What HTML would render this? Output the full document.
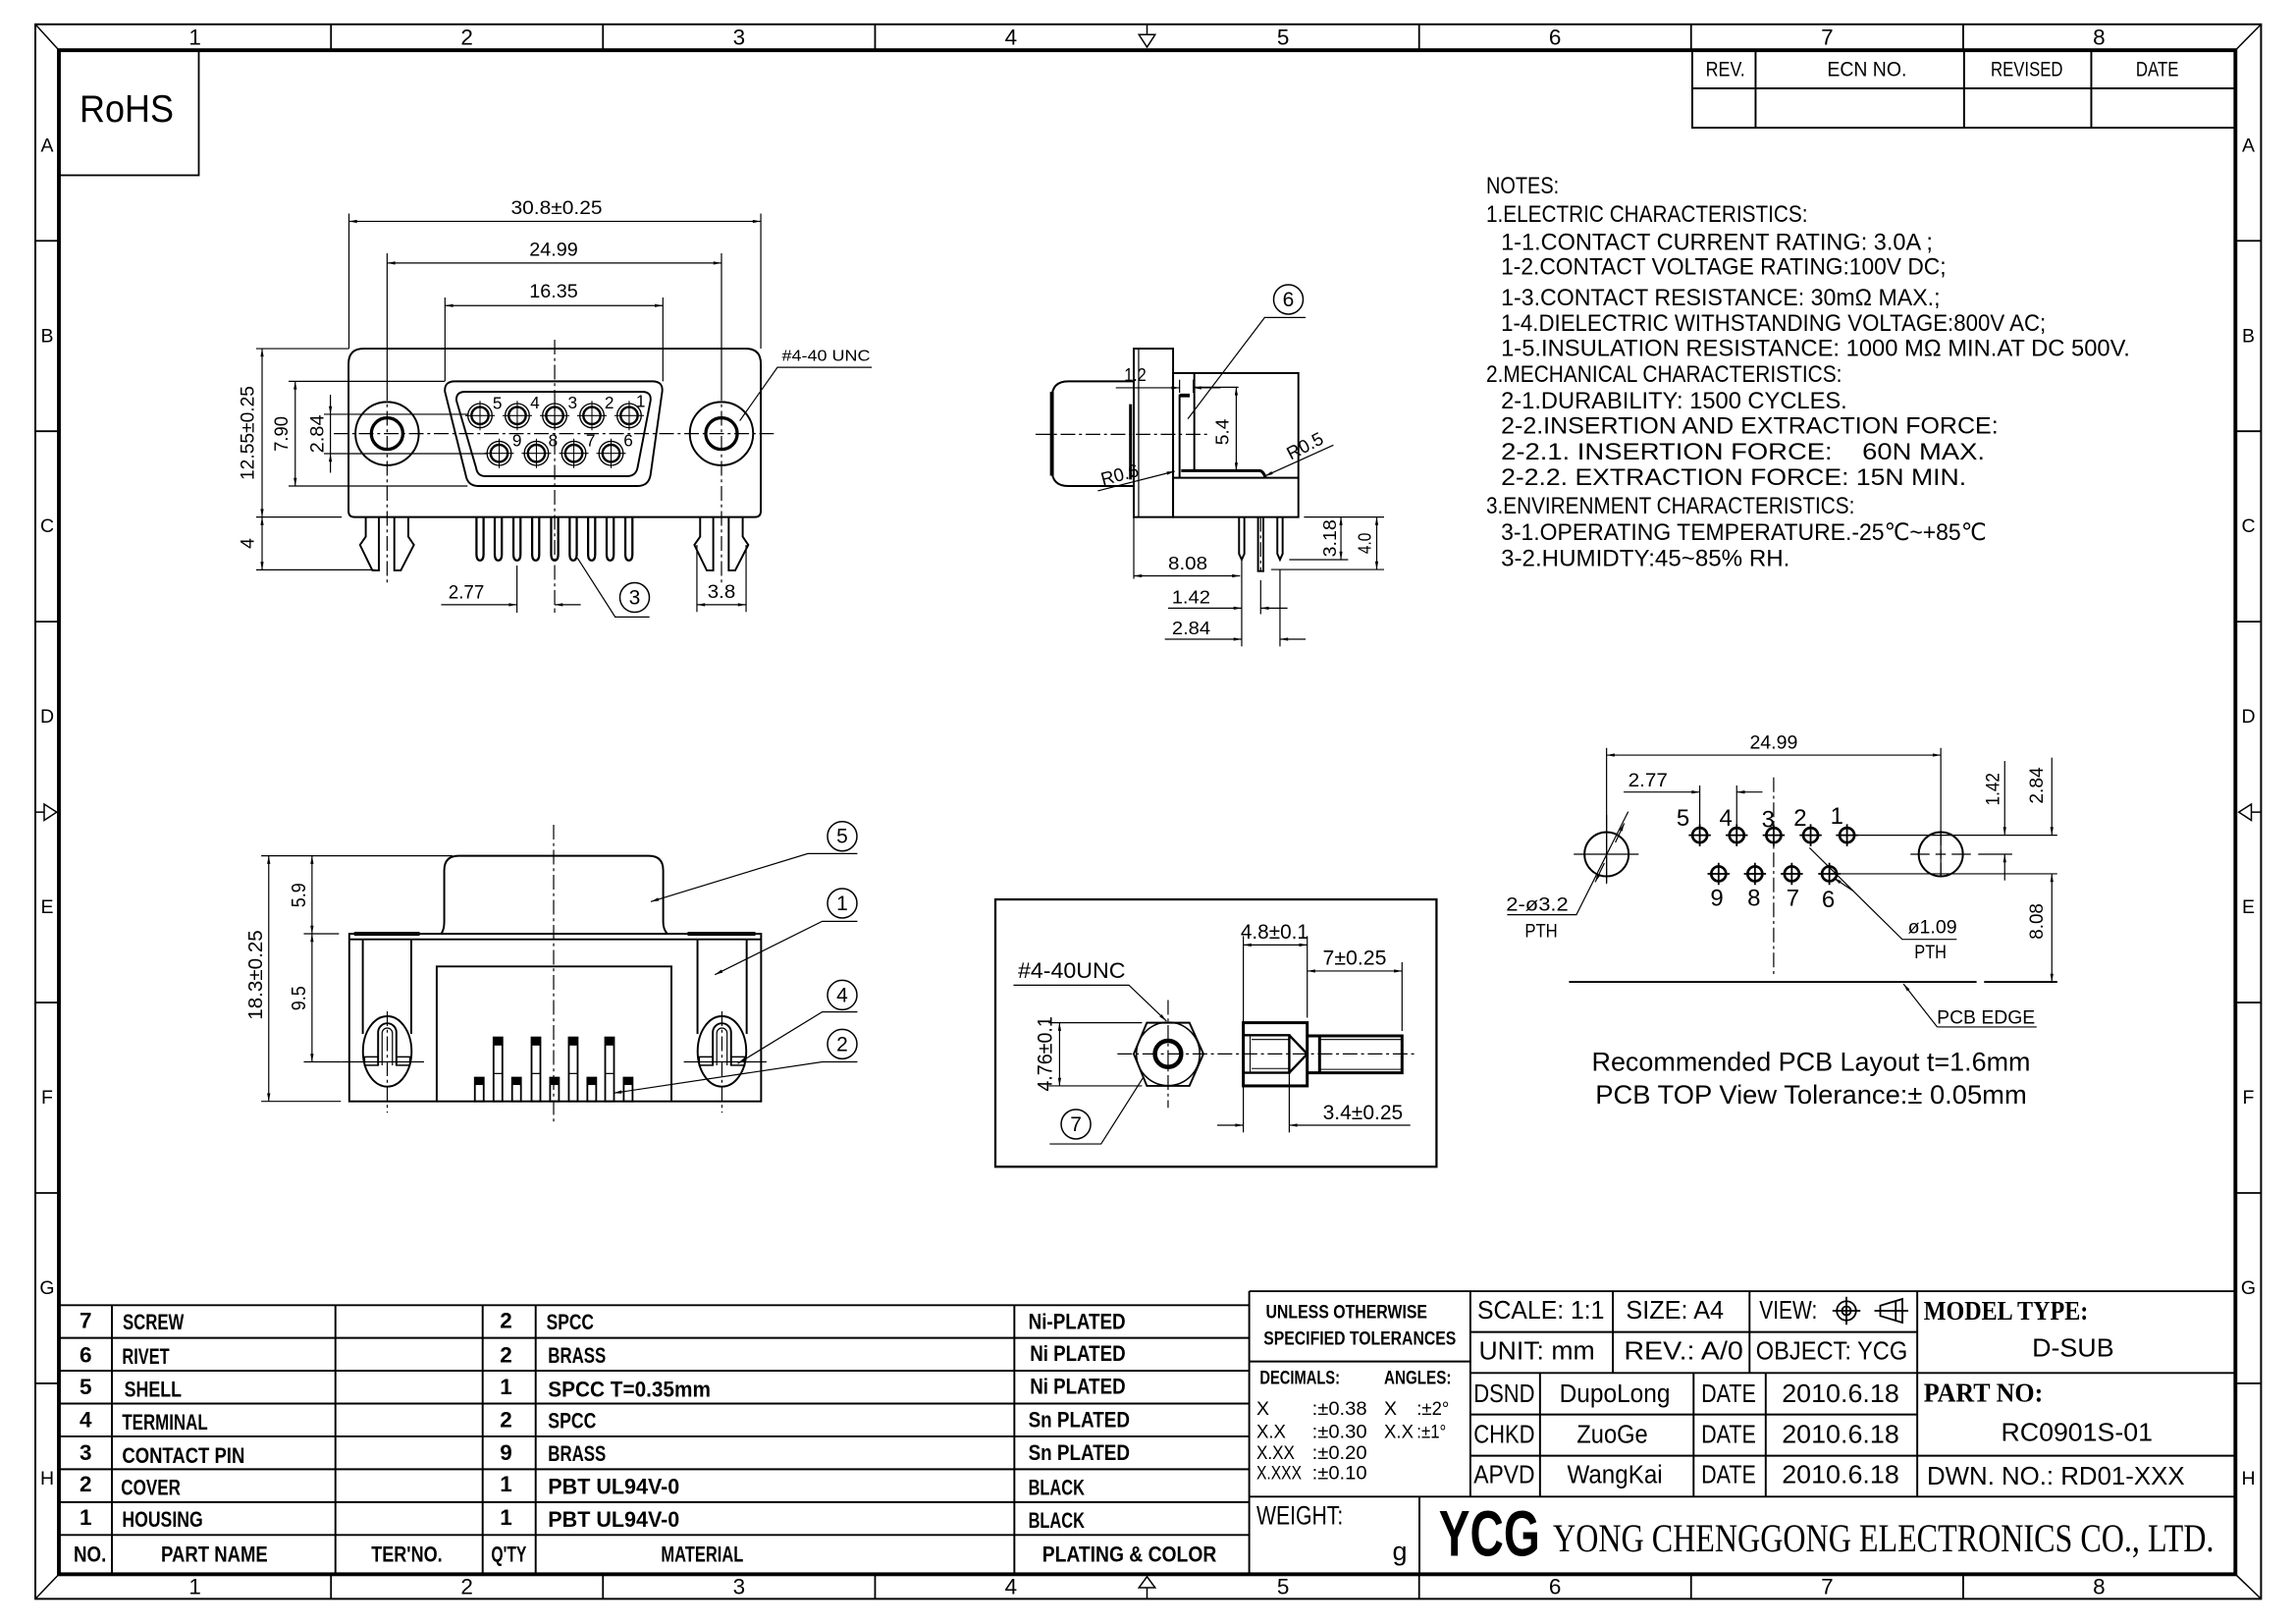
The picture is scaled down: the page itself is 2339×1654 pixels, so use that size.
<!DOCTYPE html>
<html><head><meta charset="utf-8"><style>
html,body{margin:0;padding:0;background:#fff}
svg{display:block}
text{font-family:"Liberation Sans","DejaVu Sans","Noto Sans CJK SC",sans-serif;dominant-baseline:central;fill:#000;stroke:none}
.s{font-family:"Liberation Serif","DejaVu Serif","Noto Serif CJK SC",serif}
</style></head><body>
<svg xmlns="http://www.w3.org/2000/svg" xmlns:xlink="http://www.w3.org/1999/xlink" width="2339" height="1654" viewBox="0 0 1559.33 1102.67">
<defs>
<marker id="a" viewBox="0 0 10 4" refX="10" refY="2" markerWidth="6" markerHeight="2.2" orient="auto-start-reverse" markerUnits="userSpaceOnUse"><path d="M0,0L10,2L0,4z" fill="#000"/></marker>
<g id="pf" fill="none" stroke="#000"><circle r="8.2" stroke-width="0.9"/><circle r="5.8" stroke-width="1.6"/><path d="M-10,0H10M0,-10V10" stroke-width="0.7"/></g>
<g id="pp" fill="none" stroke="#000"><circle r="5" stroke-width="1.8"/><path d="M-7.5,0H7.5M0,-7.5V7.5" stroke-width="1.2"/></g>
<path id="cp" d="M-2.4,0V25Q-2.4,29.4 0,29.4Q2.4,29.4 2.4,25V0" fill="none" stroke="#000" stroke-width="1.5"/>
<g id="ct"><rect x="-3" y="0" width="6" height="43.4" fill="none" stroke="#000" stroke-width="1.2"/><rect x="-3" y="0" width="6" height="5.5" fill="#000"/><path d="M-3,24.5H3" stroke="#000" stroke-width="0.8"/></g>
<g id="cs"><rect x="-3" y="0" width="6" height="16.1" fill="none" stroke="#000" stroke-width="1.2"/><rect x="-3" y="0" width="6" height="5" fill="#000"/></g>
</defs>
<rect x="0" y="0" width="1559.33" height="1102.67" fill="#fff"/>

<!-- FRAME -->
<g fill="none" stroke="#000">
<rect x="24" y="16.5" width="1511.6" height="1069.1" stroke-width="1.3"/>
<rect x="40" y="34.1" width="1478.2" height="1034.8" stroke-width="2.6"/>
<path d="M24,16.5L40,34.1M1535.6,16.5L1518.2,34.1M24,1085.6L40,1068.9M1535.6,1085.6L1518.2,1068.9" stroke-width="1"/>
<path d="M224.8,16.5V34.1M409.5,16.5V34.1M594.3,16.5V34.1M963.8,16.5V34.1M1148.5,16.5V34.1M1333.3,16.5V34.1" stroke-width="1.2"/>
<path d="M224.8,1068.9V1085.6M409.5,1068.9V1085.6M594.3,1068.9V1085.6M963.8,1068.9V1085.6M1148.5,1068.9V1085.6M1333.3,1068.9V1085.6" stroke-width="1.2"/>
<path d="M24,163.5H40M24,292.8H40M24,422.1H40M24,680.7H40M24,810H40M24,939.3H40" stroke-width="1.2"/>
<path d="M1518.2,163.5H1535.6M1518.2,292.8H1535.6M1518.2,422.1H1535.6M1518.2,680.7H1535.6M1518.2,810H1535.6M1518.2,939.3H1535.6" stroke-width="1.2"/>
<path d="M779,16.5V23.5M773.5,23.5H784.5L779,32Z" stroke-width="1"/>
<path d="M779,1078V1085.6M773.5,1078H784.5L779,1070.5Z" stroke-width="1"/>
<path d="M24,551.4H30M30,546V557L38.5,551.4Z" stroke-width="1"/>
<path d="M1535.6,551.4H1529M1529,546V557L1520.5,551.4Z" stroke-width="1"/>
</g>
<g font-size="15" text-anchor="middle">
<text x="132.4" y="25.3">1</text><text x="317.1" y="25.3">2</text><text x="501.9" y="25.3">3</text><text x="686.6" y="25.3">4</text><text x="871.4" y="25.3">5</text><text x="1056.1" y="25.3">6</text><text x="1240.9" y="25.3">7</text><text x="1425.6" y="25.3">8</text>
<text x="132.4" y="1077.3">1</text><text x="317.1" y="1077.3">2</text><text x="501.9" y="1077.3">3</text><text x="686.6" y="1077.3">4</text><text x="871.4" y="1077.3">5</text><text x="1056.1" y="1077.3">6</text><text x="1240.9" y="1077.3">7</text><text x="1425.6" y="1077.3">8</text>
</g>
<g font-size="13" text-anchor="middle">
<text x="32" y="98.9">A</text><text x="32" y="228.2">B</text><text x="32" y="357.5">C</text><text x="32" y="486.8">D</text><text x="32" y="616">E</text><text x="32" y="745.4">F</text><text x="32" y="874.7">G</text><text x="32" y="1004.1">H</text>
<text x="1527" y="98.9">A</text><text x="1527" y="228.2">B</text><text x="1527" y="357.5">C</text><text x="1527" y="486.8">D</text><text x="1527" y="616">E</text><text x="1527" y="745.4">F</text><text x="1527" y="874.7">G</text><text x="1527" y="1004.1">H</text>
</g>

<!-- RoHS -->
<rect x="40" y="34.1" width="95" height="84.9" fill="none" stroke="#000" stroke-width="1.2"/>
<text x="86" y="74.5" font-size="26" text-anchor="middle" textLength="64" lengthAdjust="spacingAndGlyphs">RoHS</text>

<!-- REV table -->
<path d="M1149.3,34.1V86.7H1518.2M1149.3,60H1518.2M1192.3,34.1V86.7M1333.9,34.1V86.7M1420.3,34.1V86.7" fill="none" stroke="#000" stroke-width="1.3"/>
<g font-size="14" text-anchor="middle">
<text x="1171.8" y="47.4" textLength="26.7" lengthAdjust="spacingAndGlyphs">REV.</text>
<text x="1267.9" y="47.4" textLength="54" lengthAdjust="spacingAndGlyphs">ECN NO.</text>
<text x="1376.5" y="47.4" textLength="49" lengthAdjust="spacingAndGlyphs">REVISED</text>
<text x="1465.1" y="47.4" textLength="29" lengthAdjust="spacingAndGlyphs">DATE</text>
</g>

<!-- FRONT VIEW -->
<g fill="none" stroke="#000" stroke-width="1.3">
<path d="M236.7,347L236.7,247Q236.7,236.7 247,236.7L506.4,236.7Q516.7,236.7 516.7,247L516.7,347Q516.7,351.1 512.6,351.1L240.8,351.1Q236.7,351.1 236.7,347Z"/>
<path d="M302.2,266Q301.5,258.9 309,258.9L443,258.9Q450.5,258.9 449.7,266L441.8,322.5Q440.5,330 433,330L325,330Q317.5,330 316.3,322.5Z"/>
<path d="M310,272Q309.5,266 316,266L436,266Q442.5,266 441.8,272L433,317.5Q431.8,323.3 426,323.3L329.5,323.3Q324.2,323.3 323.3,317.5Z"/>
<circle cx="262.9" cy="294.4" r="21.5"/><circle cx="262.9" cy="294.4" r="10.7" stroke-width="2.2"/>
<circle cx="490" cy="294.4" r="21.5"/><circle cx="490" cy="294.4" r="10.7" stroke-width="2.2"/>
<path d="M248.4,351.1V364.4L244.5,370L252.9,387.3H257.3V351.1M277.3,351.1V364.4L281.1,370L272.2,387.3H267.8V351.1"/>
<path d="M475.5,351.1V364.4L471.6,370L480,387.3H484.4V351.1M504.4,351.1V364.4L508.2,370L499.3,387.3H494.9V351.1"/>
</g>
<use xlink:href="#pf" x="326" y="282.2"/><use xlink:href="#pf" x="351.3" y="282.2"/><use xlink:href="#pf" x="376.7" y="282.2"/><use xlink:href="#pf" x="402" y="282.2"/><use xlink:href="#pf" x="427.3" y="282.2"/>
<use xlink:href="#pf" x="339" y="307.8"/><use xlink:href="#pf" x="364.3" y="307.8"/><use xlink:href="#pf" x="389.7" y="307.8"/><use xlink:href="#pf" x="415" y="307.8"/>
<g font-size="11.5" text-anchor="middle">
<text x="337.8" y="273.7">5</text><text x="363.3" y="273.3">4</text><text x="388.9" y="273.3">3</text><text x="413.8" y="273.3">2</text><text x="435.1" y="272.2">1</text>
<text x="351.1" y="298.9">9</text><text x="375.6" y="298.9">8</text><text x="401.1" y="298.9">7</text><text x="426.7" y="298.9">6</text>
</g>
<use xlink:href="#cp" x="326" y="351.1"/><use xlink:href="#cp" x="338.4" y="351.1"/><use xlink:href="#cp" x="351.1" y="351.1"/><use xlink:href="#cp" x="363.8" y="351.1"/><use xlink:href="#cp" x="376.7" y="351.1"/><use xlink:href="#cp" x="389.3" y="351.1"/><use xlink:href="#cp" x="401.8" y="351.1"/><use xlink:href="#cp" x="414.4" y="351.1"/><use xlink:href="#cp" x="427.1" y="351.1"/>
<g fill="none" stroke="#000" stroke-width="0.8">
<path d="M226.7,294.4H525.5M376.7,230.7V413M262.9,262V398M490,262V398" stroke-dasharray="10,2.5,2,2.5"/>
<path d="M262.9,172V262M490,172V262M237,145V236.7M516.7,145V236.7M302.2,202V258.9M450.2,202V258.9"/>
<path d="M174,236.7H237M196,258.9H302M196,330H317.5M220,281.3H318M220,308H331M174,351.1H232M174,386.9H255"/>
<path d="M237,150.3H516.7" marker-start="url(#a)" marker-end="url(#a)"/>
<path d="M262.9,178.6H490" marker-start="url(#a)" marker-end="url(#a)"/>
<path d="M302.2,207.5H450.2" marker-start="url(#a)" marker-end="url(#a)"/>
<path d="M178,236.7V351.1" marker-start="url(#a)" marker-end="url(#a)"/>
<path d="M178,351.1V386.9" marker-start="url(#a)" marker-end="url(#a)"/>
<path d="M200.5,258.9V330" marker-start="url(#a)" marker-end="url(#a)"/>
<path d="M224.4,268V281.3" marker-end="url(#a)"/><path d="M224.4,321V308" marker-end="url(#a)"/><path d="M224.4,281.3V308"/>
<path d="M351.1,384V416M376.7,413V416"/>
<path d="M299.6,410.6H351.1" marker-end="url(#a)"/><path d="M394.4,410.6H376.7" marker-end="url(#a)"/>
<path d="M473.3,370V415.5M506.7,370V415.5"/>
<path d="M473.3,410.6H506.7" marker-start="url(#a)" marker-end="url(#a)"/>
<path d="M392.2,378.9L417.8,418.9H441.1"/>
<path d="M502.4,285.7L528,249.4H592"/>
</g>
<circle cx="431" cy="405.7" r="10" fill="none" stroke="#000" stroke-width="1"/>
<g font-size="13" text-anchor="middle">
<text x="378" y="141.4" textLength="62" lengthAdjust="spacingAndGlyphs">30.8±0.25</text>
<text x="376" y="169.6" textLength="33" lengthAdjust="spacingAndGlyphs">24.99</text>
<text x="376" y="197.9" textLength="33" lengthAdjust="spacingAndGlyphs">16.35</text>
<text transform="rotate(-90 168.3 294)" x="168.3" y="294" textLength="64" lengthAdjust="spacingAndGlyphs">12.55±0.25</text>
<text transform="rotate(-90 168.3 369)" x="168.3" y="369">4</text>
<text transform="rotate(-90 191.3 294.6)" x="191.3" y="294.6" textLength="24" lengthAdjust="spacingAndGlyphs">7.90</text>
<text transform="rotate(-90 215.7 294.6)" x="215.7" y="294.6" textLength="26" lengthAdjust="spacingAndGlyphs">2.84</text>
<text x="316.7" y="402.2" textLength="24.4" lengthAdjust="spacingAndGlyphs">2.77</text>
<text x="490" y="402" textLength="19" lengthAdjust="spacingAndGlyphs">3.8</text>
<text x="431" y="406" font-size="14">3</text>
<text x="561" y="242" font-size="10.5" textLength="60" lengthAdjust="spacingAndGlyphs">#4-40 UNC</text>
</g>

<!-- SIDE VIEW -->
<g fill="none" stroke="#000" stroke-width="1.3">
<rect x="770" y="236.7" width="26.7" height="114.4"/>
<path d="M773.3,236.7V351.1" stroke-width="0.8"/>
<rect x="796.7" y="253.3" width="85.1" height="97.8"/>
<path d="M796.7,324.4H881.8"/>
<path d="M801.1,267.8V324.4M811.1,253.3V319.6"/>
<path d="M801.1,268.5H808" stroke-width="2.5"/>
<path d="M802.2,319.6H855.6Q858,320 859.5,324.4" stroke-width="2"/>
<path d="M770,258.9H725.5Q714.4,258.9 714.4,270V319Q714.4,330 725.5,330H770"/>
<path d="M714.4,266V323" stroke-width="2.6"/>
<path d="M767.8,274.4V325.6" stroke-width="2"/>
<path d="M841.5,351.1V376L843.3,380L845.1,376V351.1M867.5,351.1V376L869.3,380L871.1,376V351.1"/>
<path d="M854.4,351.1V387.8H858V351.1"/>
</g>
<g fill="none" stroke="#000" stroke-width="0.8">
<path d="M703.3,294.9H821M856.2,351.1V387.8" stroke-dasharray="10,2.5,2,2.5"/>
<path d="M875.6,380H915.6M885.6,351.1H940M863.3,386.7H940"/>
<path d="M910.7,351.1V380" marker-start="url(#a)" marker-end="url(#a)"/>
<path d="M935,351.1V386.7" marker-start="url(#a)" marker-end="url(#a)"/>
<path d="M770,351.1V393M843.3,380V438.9M856.2,394V417M869.3,386.7V438.9"/>
<path d="M770,391H842.2" marker-start="url(#a)" marker-end="url(#a)"/>
<path d="M793.3,412.9H843.3" marker-end="url(#a)"/><path d="M874.4,412.9H856.2" marker-end="url(#a)"/>
<path d="M791.1,434H843.3" marker-end="url(#a)"/><path d="M886.7,434H869.3" marker-end="url(#a)"/>
<path d="M757.8,263.3H801.1" marker-end="url(#a)"/><path d="M829,263.3H810.4" marker-end="url(#a)"/>
<path d="M801.1,257.8V266.7M810.4,257.8V266.7"/>
<path d="M839.6,262.9V319.6" marker-start="url(#a)" marker-end="url(#a)"/>
<path d="M811,262.9H841.1"/>
<path d="M745.6,333.3L797.8,320" marker-end="url(#a)"/>
<path d="M905.6,302.2L859,323.3" marker-end="url(#a)"/>
<path d="M886.7,215.6H858.9L806.7,284.4"/>
</g>
<circle cx="875" cy="203.3" r="10" fill="none" stroke="#000" stroke-width="1"/>
<g font-size="12.5" text-anchor="middle">
<text x="875" y="203.6" font-size="14">6</text>
<text transform="rotate(-90 903 365.5)" x="903" y="365.5" textLength="25.5" lengthAdjust="spacingAndGlyphs">3.18</text>
<text transform="rotate(-90 926.7 368.9)" x="926.7" y="368.9" textLength="14.4" lengthAdjust="spacingAndGlyphs">4.0</text>
<text x="806.7" y="382.2" textLength="26.7" lengthAdjust="spacingAndGlyphs">8.08</text>
<text x="808.9" y="405.2" textLength="26.2" lengthAdjust="spacingAndGlyphs">1.42</text>
<text x="809" y="426.2" textLength="26.2" lengthAdjust="spacingAndGlyphs">2.84</text>
<text x="771" y="254.4" textLength="15" lengthAdjust="spacingAndGlyphs">1.2</text>
<text transform="rotate(-90 830 293.3)" x="830" y="293.3" textLength="17.8" lengthAdjust="spacingAndGlyphs">5.4</text>
<text transform="rotate(-15 760.4 322.2)" x="760.4" y="322.2" textLength="26" lengthAdjust="spacingAndGlyphs">R0.6</text>
<text transform="rotate(-27 886.2 302.7)" x="886.2" y="302.7" textLength="26" lengthAdjust="spacingAndGlyphs">R0.5</text>
</g>

<!-- BOTTOM VIEW -->
<g fill="none" stroke="#000" stroke-width="1.3">
<rect x="237.2" y="634" width="279.7" height="113.8"/>
<path d="M237.2,637.8H516.9"/>
<path d="M240.5,634H285M467,634H513" stroke-width="2.6"/>
<path d="M299.7,634Q301.7,631 301.7,626L301.7,591Q301.7,581.1 311.5,581.1L440.6,581.1Q450.4,581.1 450.4,591L450.4,626Q450.4,631 453.2,634"/>
<path d="M296.6,747.8V656.2H456V747.8"/>
<path d="M246.4,637.8V702M279.3,637.8V702M473.7,637.8V702M507.1,637.8V702"/>
<ellipse cx="263" cy="713.9" rx="16.5" ry="23.9"/>
<ellipse cx="490.3" cy="713.9" rx="16.5" ry="23.9"/>
<path d="M256.8,723.3V701A6.2,6.2 0 0 1 269.2,701V723.3M484.1,723.3V701A6.2,6.2 0 0 1 496.5,701V723.3"/>
<path d="M259.5,723.3V701.5A3.5,3.5 0 0 1 266.5,701.5V723.3M486.8,723.3V701.5A3.5,3.5 0 0 1 493.8,701.5V723.3" stroke-width="0.8"/>
<rect x="247.6" y="717.6" width="9.2" height="5.7" stroke-width="1"/><rect x="269.2" y="717.6" width="9.2" height="5.7" stroke-width="1"/>
<rect x="474.9" y="717.6" width="9.2" height="5.7" stroke-width="1"/><rect x="496.5" y="717.6" width="9.2" height="5.7" stroke-width="1"/>
</g>
<use xlink:href="#ct" x="338.2" y="704.4"/><use xlink:href="#ct" x="364" y="704.4"/><use xlink:href="#ct" x="389.3" y="704.4"/><use xlink:href="#ct" x="414" y="704.4"/>
<use xlink:href="#cs" x="325.5" y="731.7"/><use xlink:href="#cs" x="350.8" y="731.7"/><use xlink:href="#cs" x="376.6" y="731.7"/><use xlink:href="#cs" x="401.9" y="731.7"/><use xlink:href="#cs" x="426.6" y="731.7"/>
<g fill="none" stroke="#000" stroke-width="0.8">
<path d="M231.5,721H288M464.4,721H520.6"/>
<path d="M263,686.7V755.5M490.3,686.7V755.5M376,560V762.2" stroke-dasharray="10,2.5,2,2.5"/>
<path d="M177.4,581.1H307.3M177.4,747.8H231.5M206.3,634H230.2M206.3,721H231.5"/>
<path d="M182.5,581.1V747.8" marker-start="url(#a)" marker-end="url(#a)"/>
<path d="M211.9,581.1V634" marker-start="url(#a)" marker-end="url(#a)"/>
<path d="M211.9,634V721" marker-start="url(#a)" marker-end="url(#a)"/>
<path d="M582.3,579.6H548.6L442,612.2" marker-end="url(#a)"/>
<path d="M582.3,625.6H558.4L485.5,661.8" marker-end="url(#a)"/>
<path d="M582.3,687.1H558.4L501,722.2" marker-end="url(#a)"/>
<path d="M582.3,721H558.4L416.7,742.2" marker-end="url(#a)"/>
</g>
<g fill="none" stroke="#000" stroke-width="1">
<circle cx="572" cy="567.8" r="10"/><circle cx="572" cy="613.3" r="10"/><circle cx="572" cy="675.6" r="10"/><circle cx="572" cy="708.9" r="10"/>
</g>
<g font-size="13.5" text-anchor="middle">
<text x="572" y="568.1" font-size="14">5</text><text x="572" y="613.6" font-size="14">1</text><text x="572" y="675.9" font-size="14">4</text><text x="572" y="709.2" font-size="14">2</text>
<text transform="rotate(-90 174 662)" x="174" y="662" textLength="61" lengthAdjust="spacingAndGlyphs">18.3±0.25</text>
<text transform="rotate(-90 203.5 607.8)" x="203.5" y="607.8" textLength="16.7" lengthAdjust="spacingAndGlyphs">5.9</text>
<text transform="rotate(-90 203.5 677.8)" x="203.5" y="677.8" textLength="16.7" lengthAdjust="spacingAndGlyphs">9.5</text>
</g>

<!-- SCREW BOX -->
<g fill="none" stroke="#000" stroke-width="1.3">
<rect x="676" y="610.7" width="299.6" height="181.5" stroke-width="1.5"/>
<path d="M770,715.6L778.9,694.4H807.8L817.3,715.6L807.8,737.3H778.9Z"/>
<circle cx="793.3" cy="715.6" r="21.5" stroke-width="1"/>
<circle cx="793.3" cy="715.6" r="8.9" stroke-width="3"/>
<rect x="844.4" y="694.4" width="43.4" height="42.9" stroke-width="2"/>
<path d="M845,702.9H875.6V728.4H845M875.6,702.9L887.8,715.6L875.6,728.4" stroke-width="1.6"/>
<path d="M849,702.9V728.4M850,705.8H876M850,725.5H876" stroke-width="0.7"/>
<path d="M887.8,703.3H952.2V728.4H887.8M896.2,703.3V728.4" stroke-width="2"/>
<path d="M896.2,705.8H952.2M896.2,726.1H952.2" stroke-width="0.7"/>
</g>
<g fill="none" stroke="#000" stroke-width="0.8">
<path d="M758.9,715.6H962.2M793.3,679V752.2" stroke-dasharray="10,2.5,2,2.5"/>
<path d="M688.3,668.9H766.7L792.2,693.3" marker-end="url(#a)"/>
<path d="M712.2,694.4H775.6M712.2,737.3H775.6"/>
<path d="M719.6,694.4V737.3" marker-start="url(#a)" marker-end="url(#a)"/>
<path d="M712.9,776.7H747.8L776.7,731.1"/>
<path d="M844.4,635.6V768.9M887.8,635.6V691M952.2,653.3V700M875.6,728.4V768.9"/>
<path d="M844.4,641.6H887.8" marker-start="url(#a)" marker-end="url(#a)"/>
<path d="M887.8,659.3H952.2" marker-start="url(#a)" marker-end="url(#a)"/>
<path d="M826.7,764H844.4" marker-end="url(#a)"/><path d="M957.8,764H875.6" marker-end="url(#a)"/>
</g>
<circle cx="730.7" cy="763.3" r="10" fill="none" stroke="#000" stroke-width="1"/>
<g font-size="14" text-anchor="middle">
<text x="730.7" y="763.6">7</text>
<text x="727.8" y="658.9" font-size="15" textLength="73" lengthAdjust="spacingAndGlyphs">#4-40UNC</text>
<text transform="rotate(-90 710 715.6)" x="710" y="715.6" textLength="51" lengthAdjust="spacingAndGlyphs">4.76±0.1</text>
<text x="865.6" y="632.9" textLength="46" lengthAdjust="spacingAndGlyphs">4.8±0.1</text>
<text x="920" y="650.7" textLength="43.3" lengthAdjust="spacingAndGlyphs">7±0.25</text>
<text x="925.6" y="755.6" textLength="54.4" lengthAdjust="spacingAndGlyphs">3.4±0.25</text>
</g>

<!-- NOTES -->
<g font-size="16">
<text x="1009.3" y="126.5" textLength="49.5" lengthAdjust="spacingAndGlyphs">NOTES:</text>
<text x="1009.3" y="145.8" textLength="218.4" lengthAdjust="spacingAndGlyphs">1.ELECTRIC CHARACTERISTICS:</text>
<text x="1019.4" y="164.6" textLength="293.2" lengthAdjust="spacingAndGlyphs">1-1.CONTACT CURRENT RATING: 3.0A ;</text>
<text x="1019.4" y="181.5" textLength="302.3" lengthAdjust="spacingAndGlyphs">1-2.CONTACT VOLTAGE RATING:100V DC;</text>
<text x="1019.4" y="202.4" textLength="298.3" lengthAdjust="spacingAndGlyphs">1-3.CONTACT RESISTANCE: 30mΩ MAX.;</text>
<text x="1019.4" y="219.6" textLength="370.1" lengthAdjust="spacingAndGlyphs">1-4.DIELECTRIC WITHSTANDING VOLTAGE:800V AC;</text>
<text x="1019.4" y="236.6" textLength="427.2" lengthAdjust="spacingAndGlyphs">1-5.INSULATION RESISTANCE: 1000 MΩ MIN.AT DC 500V.</text>
<text x="1009.3" y="254.5" textLength="241.7" lengthAdjust="spacingAndGlyphs">2.MECHANICAL CHARACTERISTICS:</text>
<text x="1019.4" y="272.3" textLength="235.1" lengthAdjust="spacingAndGlyphs">2-1.DURABILITY: 1500 CYCLES.</text>
<text x="1019.4" y="289.3" textLength="337.7" lengthAdjust="spacingAndGlyphs">2-2.INSERTION AND EXTRACTION FORCE:</text>
<text x="1019.4" y="307.1" textLength="328.6" lengthAdjust="spacingAndGlyphs" xml:space="preserve">2-2.1. INSERTION FORCE:    60N MAX.</text>
<text x="1019.4" y="324.4" textLength="316" lengthAdjust="spacingAndGlyphs">2-2.2. EXTRACTION FORCE: 15N MIN.</text>
<text x="1009.3" y="343.8" textLength="250.3" lengthAdjust="spacingAndGlyphs">3.ENVIRENMENT CHARACTERISTICS:</text>
<text x="1019.4" y="361.6" textLength="329.6" lengthAdjust="spacingAndGlyphs">3-1.OPERATING TEMPERATURE.-25℃~+85℃</text>
<text x="1019.4" y="379.5" textLength="196.2" lengthAdjust="spacingAndGlyphs">3-2.HUMIDTY:45~85% RH.</text>
</g>

<!-- PCB LAYOUT -->
<g fill="none" stroke="#000" stroke-width="0.8">
<path d="M1091.1,507.8V598.9M1318.1,507.8V595.6"/>
<path d="M1091.1,512.7H1318.1" marker-start="url(#a)" marker-end="url(#a)"/>
<path d="M1154.4,533.3V560M1179.5,533.3V560"/>
<path d="M1102.7,537.8H1154.4" marker-end="url(#a)"/><path d="M1197,537.8H1179.5" marker-end="url(#a)"/>
<path d="M1204.6,527.8V663.3" stroke-dasharray="10,2.5,2,2.5"/>
<circle cx="1091.1" cy="580" r="15" stroke-width="1.3"/>
<circle cx="1318.1" cy="580" r="15" stroke-width="1.3"/>
<path d="M1068.8,580H1112.9M1091.1,553.3V600"/>
<path d="M1297.5,580H1310.5M1314.5,580H1321.5M1325.5,580H1338.5M1343.5,580H1366.6M1318.1,564V574M1318.1,577V583M1318.1,586V595.6"/>
<path d="M1023.6,621.1H1070.6L1105.8,551.1"/>
<path d="M1089.6,586L1083.4,598.9" marker-end="url(#a)"/>
<path d="M1097.1,572L1103.1,559" marker-end="url(#a)"/>
<path d="M1228.9,575.6L1291.9,637.8H1328.9"/>
<path d="M1258.7,605L1245.3,596" marker-end="url(#a)"/>
<path d="M1259.3,567.1H1397.2M1245.5,593.3H1397.2"/>
<path d="M1361.5,516.7V567.1" marker-end="url(#a)"/><path d="M1361.5,597.8V580" marker-end="url(#a)"/>
<path d="M1393.5,514.4V567.1" marker-end="url(#a)"/>
<path d="M1393.5,593.3V666.7" marker-start="url(#a)" marker-end="url(#a)"/>
<path d="M1065.6,666.7H1342.4M1347.5,666.7H1397.2" stroke-width="1.3"/>
<path d="M1315.7,697.3L1292.7,668" marker-end="url(#a)"/>
<path d="M1315.7,697.3H1383.2"/>
</g>
<use xlink:href="#pp" x="1154.4" y="567.1"/><use xlink:href="#pp" x="1179.5" y="567.1"/><use xlink:href="#pp" x="1204.6" y="567.1"/><use xlink:href="#pp" x="1229.7" y="567.1"/><use xlink:href="#pp" x="1254.4" y="567.1"/>
<use xlink:href="#pp" x="1167.2" y="593.3"/><use xlink:href="#pp" x="1191.9" y="593.3"/><use xlink:href="#pp" x="1216.9" y="593.3"/><use xlink:href="#pp" x="1242.4" y="593.3"/>
<g font-size="16" text-anchor="middle">
<text x="1143" y="555.6">5</text><text x="1172.1" y="555.6">4</text><text x="1200.9" y="556.7">3</text><text x="1222.6" y="555.6">2</text><text x="1247.5" y="554.4">1</text>
<text x="1166" y="610">9</text><text x="1191.2" y="610">8</text><text x="1217.6" y="610">7</text><text x="1241.7" y="611.1">6</text>
</g>
<g font-size="13" text-anchor="middle">
<text x="1204.6" y="504.4" textLength="32.6" lengthAdjust="spacingAndGlyphs">24.99</text>
<text x="1119.2" y="530" textLength="26.9" lengthAdjust="spacingAndGlyphs">2.77</text>
<text x="1044" y="614.4" textLength="42.3" lengthAdjust="spacingAndGlyphs">2-ø3.2</text>
<text x="1046.7" y="632.3" textLength="22.3" lengthAdjust="spacingAndGlyphs">PTH</text>
<text x="1312.4" y="629.6" textLength="33.3" lengthAdjust="spacingAndGlyphs">ø1.09</text>
<text x="1311.1" y="646.7" textLength="21.8" lengthAdjust="spacingAndGlyphs">PTH</text>
<text transform="rotate(-90 1353.8 535.8)" x="1353.8" y="535.8" textLength="22.2" lengthAdjust="spacingAndGlyphs">1.42</text>
<text transform="rotate(-90 1383.2 533.3)" x="1383.2" y="533.3" textLength="24.9" lengthAdjust="spacingAndGlyphs">2.84</text>
<text transform="rotate(-90 1383.2 625.6)" x="1383.2" y="625.6" textLength="24.4" lengthAdjust="spacingAndGlyphs">8.08</text>
<text x="1348.8" y="691.1" textLength="66.7" lengthAdjust="spacingAndGlyphs">PCB EDGE</text>
</g>
<g font-size="18" text-anchor="middle">
<text x="1230" y="721.1" textLength="298" lengthAdjust="spacingAndGlyphs">Recommended PCB Layout t=1.6mm</text>
<text x="1230" y="743.3" textLength="293" lengthAdjust="spacingAndGlyphs">PCB TOP View Tolerance:± 0.05mm</text>
</g>

<!-- BOM TABLE -->
<g fill="none" stroke="#000" stroke-width="1.3">
<path d="M40,886.2H848.4M40,908.4H848.4M40,930.7H848.4M40,953H848.4M40,975.3H848.4M40,997.6H848.4M40,1019.9H848.4M40,1042.2H848.4"/>
<path d="M76,886.2V1068.9M227.8,886.2V1068.9M327.8,886.2V1068.9M363.8,886.2V1068.9M688.9,886.2V1068.9"/>
</g>
<g font-size="15" font-weight="bold">
<g text-anchor="middle">
<text x="58.2" y="896.7">7</text><text x="58.2" y="920">6</text><text x="58.2" y="941.8">5</text><text x="58.2" y="964">4</text><text x="58.2" y="986.2">3</text><text x="58.2" y="1007.8">2</text><text x="58.2" y="1030.4">1</text>
<text x="343.7" y="896.7">2</text><text x="343.7" y="920">2</text><text x="343.7" y="941.8">1</text><text x="343.7" y="964">2</text><text x="343.7" y="986.2">9</text><text x="343.7" y="1007.8">1</text><text x="343.7" y="1030.4">1</text>
<text x="61.1" y="1055.5" textLength="22.2" lengthAdjust="spacingAndGlyphs">NO.</text>
<text x="145.6" y="1055.5" textLength="72.5" lengthAdjust="spacingAndGlyphs">PART NAME</text>
<text x="276.3" y="1055.5" textLength="48.2" lengthAdjust="spacingAndGlyphs">TER'NO.</text>
<text x="345.6" y="1055.5" textLength="24" lengthAdjust="spacingAndGlyphs">Q'TY</text>
<text x="476.9" y="1055.5" textLength="56" lengthAdjust="spacingAndGlyphs">MATERIAL</text>
<text x="767" y="1055.5" textLength="118.4" lengthAdjust="spacingAndGlyphs">PLATING &amp; COLOR</text>
</g>
<text x="83.3" y="897.8" textLength="41.6" lengthAdjust="spacingAndGlyphs">SCREW</text>
<text x="82.9" y="921.1" textLength="32.2" lengthAdjust="spacingAndGlyphs">RIVET</text>
<text x="84.4" y="943.3" textLength="38.9" lengthAdjust="spacingAndGlyphs">SHELL</text>
<text x="82.9" y="965.6" textLength="58.2" lengthAdjust="spacingAndGlyphs">TERMINAL</text>
<text x="82.9" y="988.2" textLength="83.3" lengthAdjust="spacingAndGlyphs">CONTACT PIN</text>
<text x="82.2" y="1010" textLength="40.4" lengthAdjust="spacingAndGlyphs">COVER</text>
<text x="82.9" y="1031.8" textLength="54.9" lengthAdjust="spacingAndGlyphs">HOUSING</text>
<text x="371.1" y="897.8" textLength="32.2" lengthAdjust="spacingAndGlyphs">SPCC</text>
<text x="372.2" y="920.5" textLength="39.3" lengthAdjust="spacingAndGlyphs">BRASS</text>
<text x="372.2" y="943.3" textLength="110.4" lengthAdjust="spacingAndGlyphs">SPCC T=0.35mm</text>
<text x="372.2" y="964.8" textLength="32.7" lengthAdjust="spacingAndGlyphs">SPCC</text>
<text x="372.2" y="987" textLength="39.3" lengthAdjust="spacingAndGlyphs">BRASS</text>
<text x="372.2" y="1009.5" textLength="89.3" lengthAdjust="spacingAndGlyphs">PBT UL94V-0</text>
<text x="372.2" y="1031.8" textLength="89.3" lengthAdjust="spacingAndGlyphs">PBT UL94V-0</text>
<text x="698.4" y="897.3" textLength="66" lengthAdjust="spacingAndGlyphs">Ni-PLATED</text>
<text x="699.5" y="919.1" textLength="64.9" lengthAdjust="spacingAndGlyphs">Ni PLATED</text>
<text x="699.5" y="941.3" textLength="64.9" lengthAdjust="spacingAndGlyphs">Ni PLATED</text>
<text x="698.4" y="964" textLength="68.9" lengthAdjust="spacingAndGlyphs">Sn PLATED</text>
<text x="698.4" y="986.2" textLength="68.9" lengthAdjust="spacingAndGlyphs">Sn PLATED</text>
<text x="698.4" y="1010" textLength="38.2" lengthAdjust="spacingAndGlyphs">BLACK</text>
<text x="698.4" y="1032.2" textLength="38.2" lengthAdjust="spacingAndGlyphs">BLACK</text>
</g>

<!-- TITLE BLOCK -->
<g fill="none" stroke="#000" stroke-width="1.3">
<path d="M848.4,876.7H1518.2M848.4,876.7V1068.9"/>
<path d="M998.6,876.7V1016.2M1302.1,876.7V1016.2M1095.4,876.7V932.2M1188.2,876.7V932.2M1045.9,932.2V1016.2M1150.2,932.2V1016.2M1199.2,932.2V1016.2M964,1016.2V1068.9"/>
<path d="M998.6,904.4H1302.1M998.6,932.2H1518.2M998.6,960.4H1302.1M998.6,988.4H1518.2M848.4,1016.2H1518.2M848.4,924.4H998.6"/>
<circle cx="1254" cy="890" r="6.5" stroke-width="1.2"/>
<circle cx="1254" cy="890" r="3" stroke-width="1.2"/>
<path d="M1244.5,890H1263.5M1254,880.5V899.5" stroke-width="1.2"/>
<path d="M1277,886.5L1292,882V898L1277,893.5ZM1273,890H1296M1287.5,883V897" stroke-width="1.2"/>
</g>
<g font-size="17">
<g text-anchor="middle">
<text x="1046.5" y="890" textLength="86.3" lengthAdjust="spacingAndGlyphs">SCALE: 1:1</text>
<text x="1137.5" y="890" textLength="66.5" lengthAdjust="spacingAndGlyphs">SIZE: A4</text>
<text x="1214.5" y="890" textLength="39.4" lengthAdjust="spacingAndGlyphs">VIEW:</text>
<text x="1043.7" y="917.8" textLength="78.8" lengthAdjust="spacingAndGlyphs">UNIT: mm</text>
<text x="1143.4" y="917.8" textLength="81" lengthAdjust="spacingAndGlyphs">REV.: A/0</text>
<text x="1244" y="917.8" textLength="103" lengthAdjust="spacingAndGlyphs">OBJECT: YCG</text>
<text x="1407.9" y="915.6" textLength="55.7" lengthAdjust="spacingAndGlyphs">D-SUB</text>
<text x="1410.5" y="972.9" textLength="103" lengthAdjust="spacingAndGlyphs">RC0901S-01</text>
<text x="1021.6" y="946.7" textLength="41.6" lengthAdjust="spacingAndGlyphs">DSND</text>
<text x="1096.7" y="946.7" textLength="75.3" lengthAdjust="spacingAndGlyphs">DupoLong</text>
<text x="1174" y="946.7" textLength="37.2" lengthAdjust="spacingAndGlyphs">DATE</text>
<text x="1250" y="946.7" textLength="79.7" lengthAdjust="spacingAndGlyphs">2010.6.18</text>
<text x="1021.6" y="974.4" textLength="41.6" lengthAdjust="spacingAndGlyphs">CHKD</text>
<text x="1095" y="974.4" textLength="48.2" lengthAdjust="spacingAndGlyphs">ZuoGe</text>
<text x="1174" y="974.4" textLength="37.2" lengthAdjust="spacingAndGlyphs">DATE</text>
<text x="1250" y="974.4" textLength="79.7" lengthAdjust="spacingAndGlyphs">2010.6.18</text>
<text x="1021.6" y="1001.8" textLength="41.6" lengthAdjust="spacingAndGlyphs">APVD</text>
<text x="1096.7" y="1001.8" textLength="64.8" lengthAdjust="spacingAndGlyphs">WangKai</text>
<text x="1174" y="1001.8" textLength="37.2" lengthAdjust="spacingAndGlyphs">DATE</text>
<text x="1250" y="1001.8" textLength="79.7" lengthAdjust="spacingAndGlyphs">2010.6.18</text>
</g>
<text x="1308.7" y="1002.7" textLength="175" lengthAdjust="spacingAndGlyphs">DWN. NO.: RD01-XXX</text>
<text class="s" x="1306.5" y="890" font-weight="bold" font-size="18" textLength="111.7" lengthAdjust="spacingAndGlyphs">MODEL TYPE:</text>
<text class="s" x="1306.5" y="945.6" font-weight="bold" font-size="18" textLength="81" lengthAdjust="spacingAndGlyphs">PART NO:</text>
</g>
<g font-size="13" font-weight="bold">
<text x="914.5" y="891.1" text-anchor="middle" textLength="109.7" lengthAdjust="spacingAndGlyphs">UNLESS OTHERWISE</text>
<text x="923.5" y="908.9" text-anchor="middle" textLength="130.7" lengthAdjust="spacingAndGlyphs">SPECIFIED TOLERANCES</text>
<text x="855.6" y="935.6" textLength="54.4" lengthAdjust="spacingAndGlyphs">DECIMALS:</text>
<text x="940" y="935.6" textLength="45.6" lengthAdjust="spacingAndGlyphs">ANGLES:</text>
</g>
<g font-size="13">
<text x="853.3" y="956.7">X</text>
<text x="891.1" y="956.7" textLength="37.3" lengthAdjust="spacingAndGlyphs">:±0.38</text>
<text x="940" y="956.7">X</text>
<text x="962.2" y="956.7" textLength="22" lengthAdjust="spacingAndGlyphs">:±2°</text>
<text x="853.3" y="972.2" textLength="20" lengthAdjust="spacingAndGlyphs">X.X</text>
<text x="891.1" y="972.2" textLength="37.3" lengthAdjust="spacingAndGlyphs">:±0.30</text>
<text x="940" y="972.2" textLength="20" lengthAdjust="spacingAndGlyphs">X.X</text>
<text x="962.2" y="972.2" textLength="20" lengthAdjust="spacingAndGlyphs">:±1°</text>
<text x="853.3" y="986.7" textLength="26" lengthAdjust="spacingAndGlyphs">X.XX</text>
<text x="891.1" y="986.7" textLength="37.3" lengthAdjust="spacingAndGlyphs">:±0.20</text>
<text x="853.3" y="1000.4" textLength="30.7" lengthAdjust="spacingAndGlyphs">X.XXX</text>
<text x="891.1" y="1000.4" textLength="37.3" lengthAdjust="spacingAndGlyphs">:±0.10</text>
</g>
<text x="853.3" y="1028.9" font-size="18" textLength="58.9" lengthAdjust="spacingAndGlyphs">WEIGHT:</text>
<text x="950.7" y="1053.3" font-size="18" text-anchor="middle">g</text>
<text x="977.2" y="1041" font-size="44" font-weight="bold" textLength="68.7" lengthAdjust="spacingAndGlyphs">YCG</text>
<text class="s" x="1054.7" y="1044.4" font-size="27" textLength="448.9" lengthAdjust="spacingAndGlyphs">YONG CHENGGONG ELECTRONICS CO., LTD.</text>
</svg>
</body></html>
